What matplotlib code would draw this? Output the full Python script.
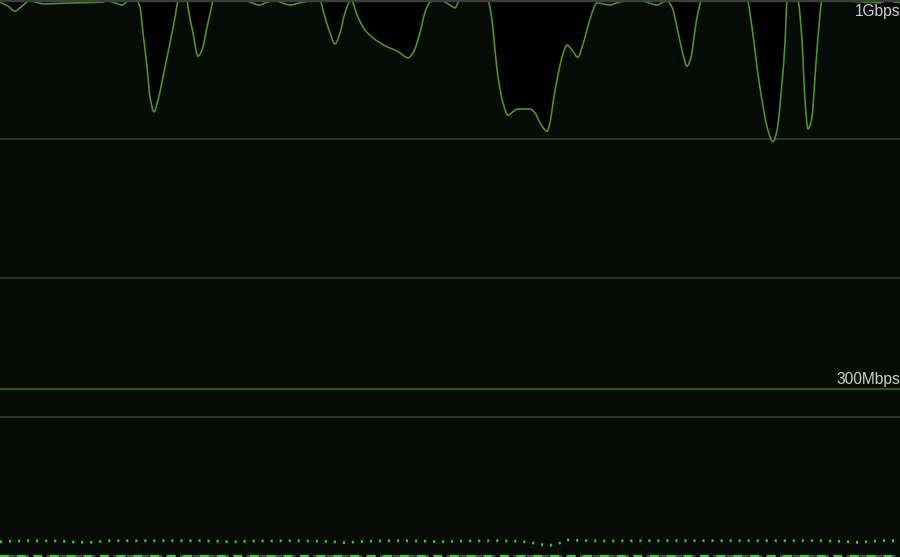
import matplotlib
matplotlib.use("Agg")
import matplotlib.pyplot as plt
from matplotlib.path import Path
from matplotlib.patches import PathPatch
import numpy as np

# ---- data (time index = horizontal position, values in Mbps) ----
main_t = [0, 8, 15, 22, 30, 38, 45, 60, 80, 100, 108, 115, 122, 126, 132,
          137, 140, 143, 147, 150, 154, 158, 163, 170, 175, 178, 182,
          187, 188, 193, 198, 202, 207, 212, 213, 229,
          245, 252, 259, 267, 275, 282, 290, 300, 308, 314,
          320, 325, 330, 335, 340, 345, 351, 358, 365, 373, 380, 388, 395, 400,
          408, 413, 420, 425, 430, 437, 443, 450, 455, 458, 460, 474,
          488, 492, 495, 498, 503, 508, 513, 518, 530, 535, 540, 547, 550, 553,
          557, 562, 567, 572, 578, 582, 587, 592, 597, 603, 610, 617, 625, 637,
          647, 657, 663, 667, 672, 677, 682, 687, 691, 695, 698, 702, 712, 725,
          737, 747, 752, 757, 762, 767, 773, 777, 782, 785, 787, 792,
          798, 802, 805, 808, 812, 815, 818, 822, 830,
          838, 850, 870, 880, 887, 897, 900]
main_v = [996, 989, 980, 989, 999, 995, 993, 994, 995, 996, 998, 995, 991, 996, 1015,
          1000, 987, 941, 880, 826, 799, 820, 862, 923, 969, 1000, 1020,
          1000, 987, 941, 899, 910, 951, 991, 1000, 1015,
          1000, 995, 991, 996, 999, 995, 991, 995, 998, 1010,
          1000, 969, 941, 921, 941, 977, 1000, 969, 946, 932, 923, 915, 910, 905,
          896, 905, 941, 978, 996, 1000, 998, 991, 986, 995, 1000, 1025,
          1000, 964, 910, 862, 815, 793, 799, 804, 804, 797, 779, 764, 779, 815,
          856, 897, 919, 910, 897, 915, 946, 977, 995, 993, 991, 995, 998, 1000,
          996, 991, 996, 998, 987, 951, 910, 881, 897, 946, 977, 1000, 999, 999,
          999, 1000, 951, 880, 820, 772, 745, 766, 851, 923, 1000, 1020,
          1000, 928, 820, 768, 790, 862, 933, 1000, 1012,
          1000, 998, 996, 995, 1000, 996, 996]

dot_t = [0, 15, 30, 60, 75, 90, 100, 110, 150, 200, 225, 235, 250, 300, 330,
         345, 360, 390, 420, 440, 460, 500, 520, 535, 548, 558, 567, 580, 600,
         650, 700, 760, 820, 845, 858, 870, 880, 900]
dot_v = [25.5, 27, 27.5, 27, 25, 24.5, 26, 27.5, 27.5, 27.5, 26, 25.5, 27, 27.5, 26,
         24, 26, 27.5, 27, 25.5, 27, 27.5, 26.5, 23, 18.5, 22, 28.8, 28, 27,
         27.5, 27.5, 27.5, 27.5, 26, 24.5, 26, 27.5, 27.5]

base_t = [0, 900]
base_v = [0.6, 0.6]

grid_values = [250, 500, 750]
ref_values = [300, 1000]
ref_labels = ["300Mbps", "1Gbps"]


def monotone_curve(x, y):
    """Monotone cubic (curveMonotoneX style) drawn as Bezier path segments."""
    x = np.asarray(x, float)
    y = np.asarray(y, float)
    h = np.diff(x)
    d = np.diff(y) / h
    n = len(x)
    m = np.zeros(n)
    m[0], m[-1] = d[0], d[-1]
    for i in range(1, n - 1):
        if d[i - 1] * d[i] <= 0:
            m[i] = 0.0
        else:
            w1 = 2 * h[i] + h[i - 1]
            w2 = h[i] + 2 * h[i - 1]
            m[i] = (w1 + w2) / (w1 / d[i - 1] + w2 / d[i])
    verts = [(x[0], y[0])]
    codes = [Path.MOVETO]
    for i in range(n - 1):
        verts += [(x[i] + h[i] / 3, y[i] + m[i] * h[i] / 3),
                  (x[i + 1] - h[i] / 3, y[i + 1] - m[i + 1] * h[i] / 3),
                  (x[i + 1], y[i + 1])]
        codes += [Path.CURVE4] * 3
    return verts, codes


# ---- figure ----
BG = "#070b06"
fig = plt.figure(figsize=(9, 5.57), dpi=100, facecolor=BG)
ax = fig.add_axes([0, 0, 1, 1], facecolor=BG)
ax.set_xlim(0, 900)
ax.set_ylim(-1.8, 1000)
ax.set_axis_off()

for g in grid_values:
    ax.axhline(g, color="#2c3229", lw=1.5, zorder=1)

ax.axhline(ref_values[0], color="#2a5514", lw=1.6, zorder=1)
ax.axhline(ref_values[1], color="#3d3d3d", lw=2.5, zorder=5, clip_on=False)

verts, codes = monotone_curve(main_t, main_v)
# area above the main line
fverts = verts + [(main_t[-1], 3000), (main_t[0], 3000), verts[0]]
fcodes = codes + [Path.LINETO, Path.LINETO, Path.CLOSEPOLY]
ax.add_patch(PathPatch(Path(fverts, fcodes), facecolor="#000000",
                       edgecolor="none", zorder=2))
ax.add_patch(PathPatch(Path(verts, codes), facecolor="none",
                       edgecolor="#4a9a22", lw=1.15, zorder=3))

# dotted series
ax.plot(dot_t, dot_v, color="#22d622", lw=2.0, linestyle=(0, (0.75, 2.5)),
        zorder=3, dash_capstyle="butt")

# bottom dashed series
ax.plot(base_t, base_v, color="#2f6a1c", lw=1.6, linestyle=(3, (4, 2)), zorder=3)
ax.plot(base_t, base_v, color="#22dd22", lw=1.6, linestyle=(0, (4, 3.5)), zorder=3)

# labels
ax.annotate(ref_labels[0], xy=(900, ref_values[0]), xytext=(0, 2),
            textcoords="offset pixels", ha="right", va="bottom",
            color="#cfcfcf", fontsize=11.2, family="Liberation Sans", zorder=6)
ax.annotate(ref_labels[1], xy=(900, ref_values[1]), xytext=(0, -4),
            textcoords="offset pixels", ha="right", va="top",
            color="#cfcfcf", fontsize=11.2, family="Liberation Sans", zorder=6)

fig.savefig("out.png", dpi=100, facecolor=BG)
